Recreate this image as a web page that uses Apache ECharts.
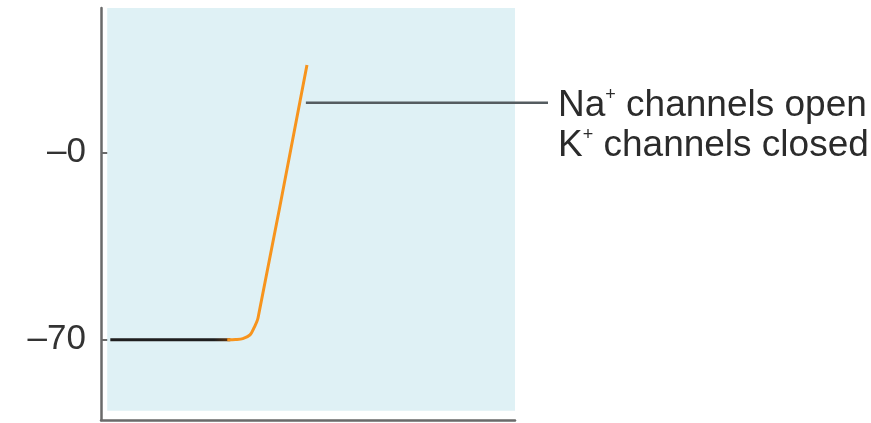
<!DOCTYPE html>
<html><head><meta charset="utf-8">
<script src="https://cdn.jsdelivr.net/npm/echarts@6/dist/echarts.min.js"></script>
<style>html,body{margin:0;padding:0;background:#fff}#c{width:871px;height:423px}</style>
</head><body><div id="c"></div>
<script>
// time (ms) / membrane potential (mV)
const restingLine = [[0.09, -70], [1.25, -70]];
const risingLine = [[1.22, -70], [1.30, -69.9], [1.37, -69.6], [1.44, -68.2], [1.478, -65.6], [1.517, -61.9], [1.99, 32.7]];
const annotationLine = [[1.98, 18.6], [4.32, 18.6]];
const tickValues = [-70, 0];
const tickLabels = ['–70', '–0'];
const panelX = [0.06, 4];
const panelY = [-96.5, 54];
const annotationText = [['Na', 'channels open'], ['K', 'channels closed']];

const FONT = '"Liberation Sans", Arial, Helvetica, sans-serif';
const chart = echarts.init(document.getElementById('c'), null, {renderer: 'canvas'});

const gridBase = {left: 101, top: 8, bottom: 3};
chart.setOption({
  animation: false,
  backgroundColor: '#ffffff',
  grid: [
    Object.assign({right: 356}, gridBase),
    Object.assign({right: 323}, gridBase)
  ],
  xAxis: [
    {type: 'value', gridIndex: 0, min: 0, max: 4,
     axisLine: {show: true, onZero: false, lineStyle: {color: '#6a6a6a', width: 2.5}},
     axisTick: {show: false}, axisLabel: {show: false}, splitLine: {show: false}},
    {type: 'value', gridIndex: 1, min: 0, max: 4.32, show: false}
  ],
  yAxis: [
    {type: 'value', gridIndex: 0, min: -100, max: 54,
     axisLine: {show: true, onZero: false, lineStyle: {color: '#6a6a6a', width: 2.5}},
     axisTick: {show: true, inside: true, length: 16, customValues: tickValues,
                lineStyle: {color: '#6a6a6a', width: 2}},
     axisLabel: {show: true, customValues: tickValues, margin: 15,
                 fontFamily: FONT, fontSize: 35, color: '#333',
                 formatter: function (v) { return tickLabels[tickValues.indexOf(v)]; }},
     splitLine: {show: false}},
    {type: 'value', gridIndex: 1, min: -100, max: 54, show: false}
  ],
  series: [
    {type: 'line', xAxisIndex: 0, yAxisIndex: 0, data: restingLine, symbol: 'none',
     lineStyle: {width: 3, color: {type: 'linear', x: 0, y: 0, x2: 1, y2: 0,
       colorStops: [{offset: 0, color: '#1e1e1e'}, {offset: 0.85, color: '#1e1e1e'}, {offset: 1, color: '#6b3a10'}]}},
     z: 3,
     markArea: {silent: true, itemStyle: {color: '#dff1f5'},
       data: [[{coord: [panelX[0], panelY[1]]}, {coord: [panelX[1], panelY[0]]}]]}},
    {type: 'line', xAxisIndex: 0, yAxisIndex: 0, data: risingLine, symbol: 'none', smooth: 0.3,
     lineStyle: {color: '#f7941d', width: 3}, z: 4},
    {type: 'line', xAxisIndex: 1, yAxisIndex: 1, data: annotationLine, symbol: 'none',
     lineStyle: {color: '#555c60', width: 2.5}, z: 2, clip: false}
  ]
});

const end = chart.convertToPixel({gridIndex: 1}, annotationLine[annotationLine.length - 1]);
const lines = annotationText.map(function (p) { return '{t|' + p[0] + '}{s|+}{t| ' + p[1] + '}'; });
chart.setOption({
  graphic: [{
    type: 'text', left: end[0] + 10, top: end[1] - 17,
    style: {
      text: lines.join('\n'),
      rich: {
        t: {fontFamily: FONT, fontSize: 37, lineHeight: 40, fill: '#2b2b2b', color: '#2b2b2b'},
        s: {fontFamily: FONT, fontSize: 18, lineHeight: 24, verticalAlign: 'top', fill: '#2b2b2b', color: '#2b2b2b'}
      }
    }
  }]
});
</script></body></html>
